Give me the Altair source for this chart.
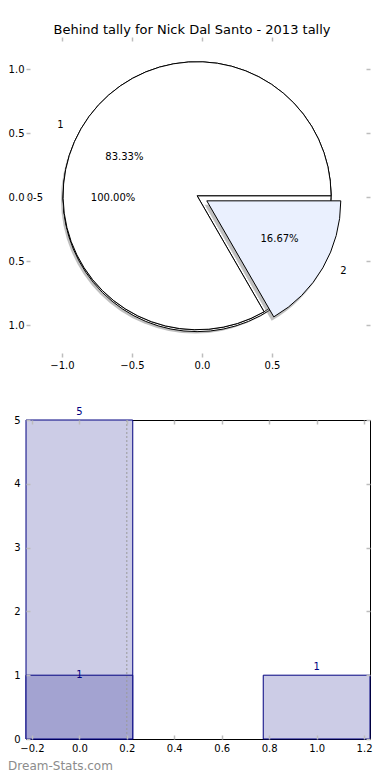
import altair as alt
import numpy as np
import pandas as pd

TITLE = "Behind tally for Nick Dal Santo - 2013 tally"
WATERMARK = "Dream-Stats.com"

# ---- pie data ----
slice_labels = ["1", "2"]
slice_counts = [5, 1]
slice_colors = ["#ffffff", "#eaf0fe"]
slice_explode = [0.0, 0.08]
group_labels = ["0-5"]
group_counts = [6]

pie_xticks = [-1.0, -0.5, 0.0, 0.5]
pie_yticks = [-1.0, -0.5, 0.0, 0.5, 1.0]

# ---- bar data ----
bar_centers = [0, 1]
bar_counts = [5, 1]
dark_centers = [0]
dark_counts = [1]
marker_x = [0.2]
bar_xticks = [-0.2, 0.0, 0.2, 0.4, 0.6, 0.8, 1.0, 1.2]
bar_yticks = [0, 1, 2, 3, 4, 5]

# ---- layout constants ----
FONT = "DejaVu Sans"
PIE_CENTER = (-0.035, 0.01)
GROUP_SHIFT = (0.0, -0.015)
SHADOW_SHIFT = (-0.015, -0.03)
RADIUS = 134
BAR_HALF = 0.225
TICK_GREY = "#bdbdbd"
NAVY = "#000080"

total = float(sum(slice_counts))
cum = np.concatenate([[0], np.cumsum(slice_counts)])

rows = []
for i, (lab, c) in enumerate(zip(slice_labels, slice_counts)):
    mid = np.deg2rad(360.0 * (cum[i] + cum[i + 1]) / 2 / total)
    ex = slice_explode[i]
    cx = PIE_CENTER[0] + ex * np.cos(mid)
    cy = PIE_CENTER[1] + ex * np.sin(mid)
    rows.append(dict(label=lab, t0=cum[i], t1=cum[i + 1], fill=slice_colors[i],
                     explode=ex, mid=mid,
                     cx0=PIE_CENTER[0], cy0=PIE_CENTER[1], cx=cx, cy=cy))
slices = pd.DataFrame(rows)

gcum = np.concatenate([[0], np.cumsum(group_counts)])
grows = []
for i, (lab, c) in enumerate(zip(group_labels, group_counts)):
    mid = np.deg2rad(360.0 * (gcum[i] + gcum[i + 1]) / 2 / gcum[-1])
    grows.append(dict(label=lab, t0=gcum[i], t1=gcum[i + 1], fill="#ffffff", mid=mid,
                      cx=PIE_CENTER[0] + GROUP_SHIFT[0], cy=PIE_CENTER[1] + GROUP_SHIFT[1]))
groups = pd.DataFrame(grows)

shadow = groups.copy()
shadow["cx"] = PIE_CENTER[0] + SHADOW_SHIFT[0]
shadow["cy"] = PIE_CENTER[1] + SHADOW_SHIFT[1]

ghost = slices.copy()
ghost["cx"] = ghost["cx0"]
ghost["cy"] = ghost["cy0"]
ghost["fill"] = "#ffffff"

exploded = slices[slices["explode"] > 0].copy()
exp_shadow = exploded.copy()
exp_shadow["cx"] = exp_shadow["cx"] + SHADOW_SHIFT[0]
exp_shadow["cy"] = exp_shadow["cy"] + SHADOW_SHIFT[1]

# labels
trows = []
for _, r in slices.iterrows():
    c, s = np.cos(r["mid"]), np.sin(r["mid"])
    trows.append(dict(lx=r["cx"] + 1.1 * c, ly=r["cy"] + 1.1 * s, text=r["label"],
                      side="left" if c > 0 else "right"))
    pct = 100.0 * (r["t1"] - r["t0"]) / total
    trows.append(dict(lx=r["cx"] + 0.6 * c, ly=r["cy"] + 0.6 * s, text=f"{pct:.2f}%",
                      side="center"))
for _, r in groups.iterrows():
    c, s = np.cos(r["mid"]), np.sin(r["mid"])
    trows.append(dict(lx=r["cx"] + 1.1 * c, ly=r["cy"] + 1.1 * s, text=r["label"],
                      side="left" if c > 0 else "right"))
    pct = 100.0 * (r["t1"] - r["t0"]) / gcum[-1]
    trows.append(dict(lx=r["cx"] + 0.6 * c, ly=r["cy"] + 0.6 * s, text=f"{pct:.2f}%",
                      side="center"))
pie_text = pd.DataFrame(trows)

xs_top = alt.Scale(domain=[-1.257, 1.2], nice=False, zero=False, padding=0)
ys_top = alt.Scale(domain=[-1.25, 1.25], nice=False, zero=False, padding=0)
theta_scale = alt.Scale(domain=[0, total], range=[2.5 * np.pi, 0.5 * np.pi])


def label_axis(orient, values, fmt=None, expr=None, pad=3):
    kw = dict(orient=orient, values=values, ticks=False, domain=False, grid=False,
              labelPadding=pad, labelFontSize=10, labelColor="black", labelFont=FONT,
              title=None, labelOverlap=False)
    if fmt:
        kw["format"] = fmt
    if expr:
        kw["labelExpr"] = expr
    return alt.Axis(**kw)


def tick_axis(orient, values):
    return alt.Axis(orient=orient, values=values, labels=False, domain=False, grid=False,
                    ticks=True, tickSize=4, tickColor=TICK_GREY, tickWidth=1.5,
                    offset=-4, title=None, zindex=1)


def arc_layer(df, mark_kw, xa=None, ya=None, with_fill=True):
    enc = dict(
        x=alt.X("cx:Q", scale=xs_top, axis=xa),
        y=alt.Y("cy:Q", scale=ys_top, axis=ya),
        theta=alt.Theta("t0:Q", scale=theta_scale, stack=False),
        theta2="t1:Q",
    )
    if with_fill:
        enc["fill"] = alt.Fill("fill:N", scale=None)
    return alt.Chart(df).mark_arc(radius=RADIUS, **mark_kw).encode(**enc)


l_shadow = arc_layer(shadow, dict(fill="#808080", opacity=0.5, strokeWidth=0),
                     xa=label_axis("bottom", pie_xticks, fmt=".1f"),
                     ya=label_axis("left", pie_yticks, expr="format(abs(datum.value), '.1f')", pad=2),
                     with_fill=False)
l_group = arc_layer(groups, dict(stroke="black", strokeWidth=1),
                    xa=tick_axis("bottom", pie_xticks), ya=tick_axis("left", pie_yticks))
l_ghost = arc_layer(ghost, dict(stroke="black", strokeWidth=1),
                    xa=tick_axis("top", pie_xticks), ya=tick_axis("right", pie_yticks))
l_exp_shadow = arc_layer(exp_shadow, dict(fill="#808080", opacity=0.5, strokeWidth=0),
                         with_fill=False)
l_slices = arc_layer(slices, dict(stroke="black", strokeWidth=1))


def text_layer(align):
    return alt.Chart(pie_text).transform_filter(alt.datum.side == align).mark_text(
        align=align, baseline="middle", fontSize=10, font=FONT, color="black"
    ).encode(
        x=alt.X("lx:Q", scale=xs_top, axis=None),
        y=alt.Y("ly:Q", scale=ys_top, axis=None),
        text="text:N",
    )


top = alt.layer(
    l_shadow, l_group, l_ghost, l_exp_shadow, l_slices,
    text_layer("left"), text_layer("right"), text_layer("center"),
).resolve_axis(x="independent", y="independent").properties(
    width=344, height=320,
    view=alt.ViewBackground(strokeOpacity=0),
    title=alt.TitleParams(TITLE, anchor="middle", frame="group", fontSize=13,
                          fontWeight="normal", font=FONT, color="black", offset=-1, dx=-6),
)

# ---- bottom chart ----
bars = pd.DataFrame({"center": bar_centers, "count": bar_counts})
dark = pd.DataFrame({"center": dark_centers, "count": dark_counts})
marker = pd.DataFrame({"x": marker_x})

xs_bot = alt.Scale(domain=[-0.225, 1.225], nice=False, zero=False, padding=0)
ys_bot = alt.Scale(domain=[0, 5], nice=False, padding=0)


def bar_layer(df, fill, xa=None, ya=None):
    return alt.Chart(df).transform_calculate(
        x0=f"datum.center - {BAR_HALF}", x1=f"datum.center + {BAR_HALF}", base="0"
    ).mark_bar(fill=fill, stroke=NAVY, strokeWidth=1, orient="vertical").encode(
        x=alt.X("x0:Q", scale=xs_bot, axis=xa),
        x2="x1:Q",
        y=alt.Y("count:Q", scale=ys_bot, axis=ya),
        y2="base:Q",
    )


b_light = bar_layer(bars, "#ccccE6",
                    xa=label_axis("bottom", bar_xticks, fmt=".1f", pad=4),
                    ya=label_axis("left", bar_yticks, fmt="d", pad=6))
b_dark = bar_layer(dark, "#a3a3d1",
                   xa=tick_axis("bottom", bar_xticks), ya=tick_axis("left", bar_yticks))
b_rule = alt.Chart(marker).mark_rule(color="#9a9a9a", strokeDash=[2, 2], strokeWidth=1).encode(
    x=alt.X("x:Q", scale=xs_bot, axis=None)
)
t_light = alt.Chart(bars).mark_text(
    baseline="bottom", dy=-3, fontSize=10, font=FONT, color=NAVY
).encode(
    x=alt.X("center:Q", scale=xs_bot, axis=tick_axis("top", bar_xticks)),
    y=alt.Y("count:Q", scale=ys_bot, axis=tick_axis("right", bar_yticks)),
    text="count:Q",
)
t_dark = alt.Chart(dark).mark_text(
    baseline="middle", dy=0, fontSize=10, font=FONT, color=NAVY
).encode(
    x=alt.X("center:Q", scale=xs_bot, axis=None),
    y=alt.Y("count:Q", scale=ys_bot, axis=None),
    text="count:Q",
)

bottom = alt.layer(b_light, b_dark, b_rule, t_light, t_dark).resolve_axis(
    x="independent", y="independent"
).properties(
    width=344, height=319,
    view=alt.ViewBackground(stroke="black", strokeWidth=1),
)

chart = alt.vconcat(
    top, bottom, spacing=63, bounds="flush",
    title=alt.TitleParams(WATERMARK, orient="bottom", anchor="start", fontSize=12,
                          fontWeight="normal", font=FONT, color="#8c8c8c", offset=7),
).properties(
    padding={"left": 0, "top": 16, "right": 0, "bottom": 0},
).configure(
    background="white",
).configure_view(
    stroke="black",
)

chart.save("out.html", embed_options={"renderer": "svg", "actions": False})
